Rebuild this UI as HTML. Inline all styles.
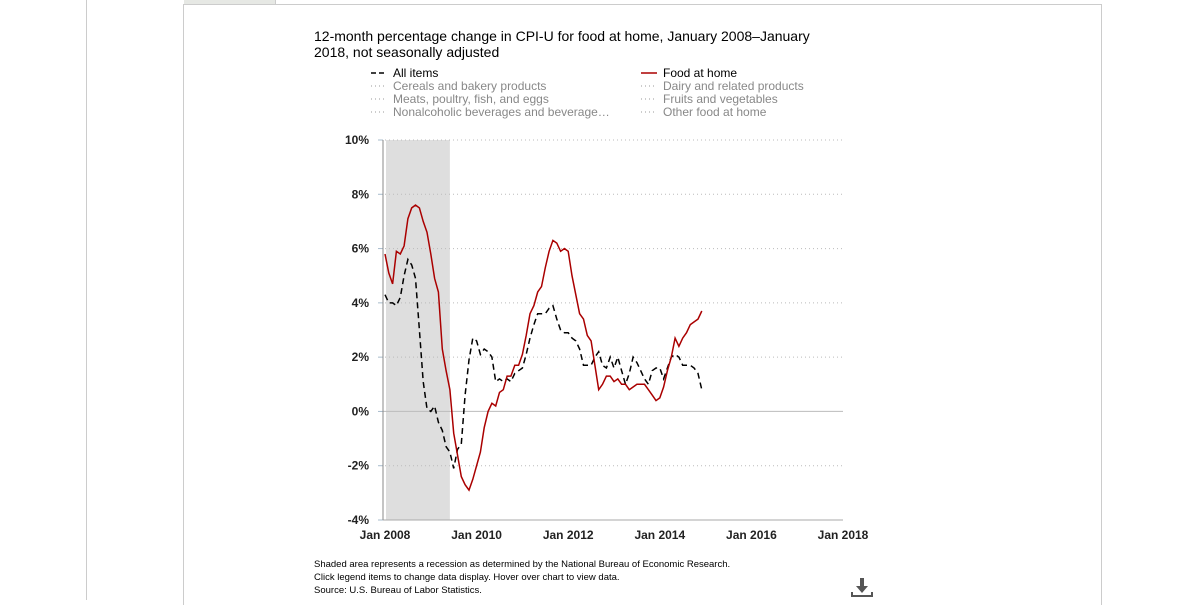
<!DOCTYPE html>
<html><head><meta charset="utf-8"><style>
body{margin:0;width:1192px;height:600px;overflow:hidden;background:#fff;font-family:"Liberation Sans",sans-serif;position:relative}
.abs{position:absolute}
</style></head><body>
<div class="abs" style="left:86px;top:0;width:1px;height:600px;background:#ccc"></div>
<div class="abs" style="left:183px;top:4px;width:917px;height:600px;border-left:1px solid #ccc;border-right:1px solid #ccc;border-top:1px solid #ccc"></div>
<div class="abs" style="left:184px;top:0;width:91px;height:4px;background:#e6e8e4;border-right:1px solid #ccc"></div>
<div class="abs" style="left:314px;top:28px;font-size:14px;line-height:16px;color:#000;width:520px">12-month percentage change in CPI-U for food at home, January 2008–January 2018, not seasonally adjusted</div>
<svg class="abs" style="left:0;top:0" width="1192" height="600" id="chart"></svg>
<div class="abs" style="left:314px;top:558px;font-size:9.5px;line-height:13px;color:#000">Shaded area represents a recession as determined by the National Bureau of Economic Research.<br>Click legend items to change data display. Hover over chart to view data.<br>Source: U.S. Bureau of Labor Statistics.</div>
<svg class="abs" style="left:850px;top:576px" width="24" height="22"><path d="M10 2h4v8h4l-6 7-6-7h4z" fill="#555"/><path d="M2 16v4h20v-4" fill="none" stroke="#555" stroke-width="2"/></svg>
<script>
const foodAtHome=[5.8,5.1,4.7,5.9,5.8,6.1,7.1,7.5,7.6,7.5,7.0,6.6,
5.8,4.9,4.4,2.3,1.5,0.8,-0.8,-1.6,-2.4,-2.7,-2.9,-2.5,
-2.0,-1.5,-0.6,0.0,0.3,0.2,0.7,0.8,1.3,1.3,1.7,1.7,
2.1,2.8,3.6,3.9,4.4,4.6,5.3,5.9,6.3,6.2,5.9,6.0,
5.9,5.0,4.3,3.6,3.4,2.8,2.6,1.7,0.8,1.0,1.3,1.3,
1.1,1.2,1.0,1.0,0.8,0.9,1.0,1.0,1.0,0.8,0.6,0.4,
0.5,0.9,1.5,2.0,2.7,2.4,2.7,2.9,3.2,3.3,3.4,3.7];
const allItems=[4.3,4.0,4.0,3.9,4.2,5.0,5.6,5.4,4.9,3.0,1.1,0.1,
0.0,0.2,-0.4,-0.7,-1.3,-1.5,-2.1,-1.4,-1.2,0.6,1.9,2.7,
2.6,2.1,2.3,2.2,2.0,1.1,1.2,1.1,1.2,1.1,1.4,1.5,
1.6,2.1,2.7,3.2,3.6,3.6,3.6,3.8,3.9,3.4,3.0,2.9,
2.9,2.7,2.6,2.3,1.7,1.7,1.7,2.0,2.2,1.7,1.6,2.0,
1.6,2.0,1.5,1.0,1.4,2.0,1.8,1.5,1.2,1.0,1.5,1.6,
1.6,1.2,1.6,2.0,2.1,2.0,1.7,1.7,1.7,1.6,1.4,0.8];
const yTicks=[10,8,6,4,2,0,-2,-4];
const xTickYears=[2008,2010,2012,2014,2016,2018];
const recession=[0,17];
const legendLeft=["All items","Cereals and bakery products","Meats, poultry, fish, and eggs","Nonalcoholic beverages and beverage…"];
const legendRight=["Food at home","Dairy and related products","Fruits and vegetables","Other food at home"];

const X0=385,X1=843,Y0=140,Y1=520;
const x=m=>X0+(X1-X0)*m/120;
const y=v=>Y0+(Y1-Y0)*(10-v)/14;
const svg=document.getElementById('chart');
const NS='http://www.w3.org/2000/svg';
function mk(t,a,txt){const e=document.createElementNS(NS,t);for(const k in a)e.setAttribute(k,a[k]);if(txt!==undefined)e.textContent=txt;svg.appendChild(e);return e;}

let r=mk('rect',{x:x(recession[0])+1,y:Y0,width:x(recession[1])-x(recession[0])-1,height:Y1-Y0,fill:'#dedede'});


yTicks.forEach(v=>{
  if(v!==-4&&v!==0){const g=mk('line',{x1:x(0),x2:X1,y1:y(v),y2:y(v),stroke:'#bbb','stroke-dasharray':'1,3'});
  
  }
  const t=mk('line',{x1:378,x2:383,y1:y(v),y2:y(v),stroke:'#a8bccc'});
  
  
  const l=mk('text',{x:369,y:y(v)+4,'text-anchor':'end','font-size':12,'font-weight':'bold',fill:'#222','font-family':'Liberation Sans, sans-serif'},v+'%');
  
  
});
let z=mk('line',{x1:383,x2:X1,y1:y(0),y2:y(0),stroke:'#bbb'});


let xa=mk('line',{x1:383,x2:X1,y1:Y1,y2:Y1,stroke:'#aaa'});


let ya=mk('line',{x1:383,x2:383,y1:Y0,y2:Y1,stroke:'#888'});


xTickYears.forEach(yr=>{
  const l=mk('text',{x:x((yr-2008)*12),y:539,'text-anchor':'middle','font-size':12,'font-weight':'bold',fill:'#222','font-family':'Liberation Sans, sans-serif'},'Jan '+yr);
  
  
});
const pts=a=>a.map((v,i)=>x(i).toFixed(1)+','+y(v).toFixed(1)).join(' ');
let la=mk('polyline',{points:pts(allItems),fill:'none',stroke:'#000','stroke-width':1.5,'stroke-dasharray':'6,4'});


let lf=mk('polyline',{points:pts(foodAtHome),fill:'none',stroke:'#a00','stroke-width':1.5});



function legend(items,mx,tx){
  items.forEach((s,i)=>{
    const yy=77+i*13;
    const active=(i===0);
    const col=active?'#000':'#888';
    const m=mk('line',{x1:mx,x2:mx+(active?16:14),y1:yy-4,y2:yy-4,stroke:active?(mx>500?'#a00':'#000'):'#999','stroke-width':active?1.5:1,'stroke-dasharray':active?(mx>500?'none':'5,3'):'1,3'});
    
    
    const t=mk('text',{x:tx,y:yy,'font-size':12,fill:col,'font-family':'Liberation Sans, sans-serif'},s);
    
    
  });
}
legend(legendLeft,371,393);
legend(legendRight,641,663);
</script>
</body></html>
